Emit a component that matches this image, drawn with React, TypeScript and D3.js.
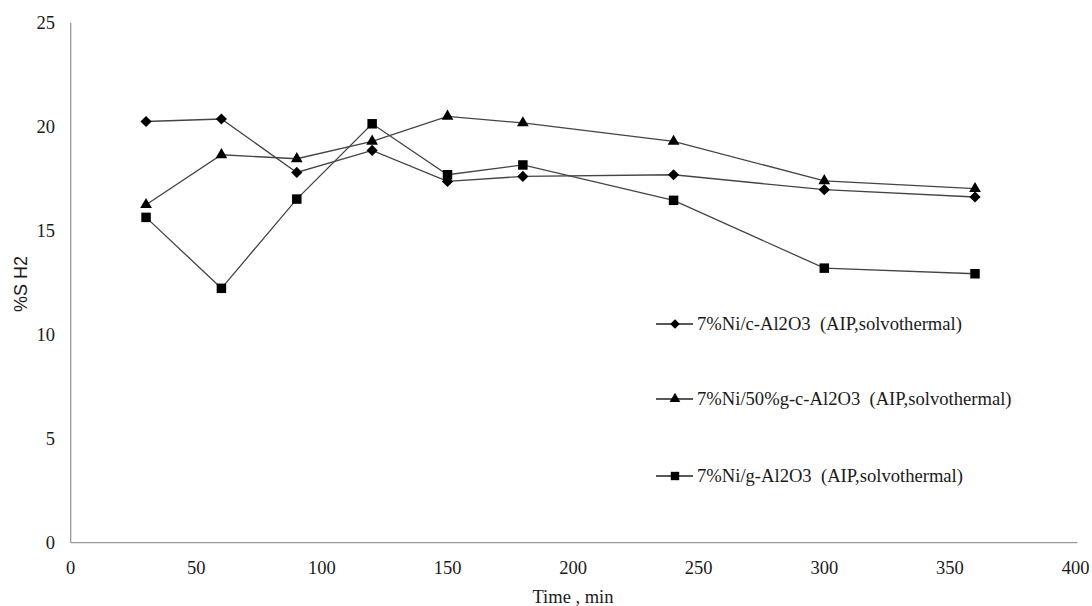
import { useEffect, useRef } from 'react'
import * as d3 from 'd3'

// Sampling times (min) shared by all three catalysts
const TIMES = [30, 60, 90, 120, 150, 180, 240, 300, 360]

// %S H2
const NI_C_AL2O3 = [20.25, 20.37, 17.8, 18.86, 17.37, 17.61, 17.69, 16.97, 16.62]
const NI_50G_C_AL2O3 = [16.25, 18.65, 18.46, 19.3, 20.5, 20.18, 19.29, 17.4, 17.02]
const NI_G_AL2O3 = [15.64, 12.23, 16.52, 20.14, 17.69, 18.16, 16.46, 13.2, 12.93]

const X_TICKS = [0, 50, 100, 150, 200, 250, 300, 350, 400]
const Y_TICKS = [0, 5, 10, 15, 20, 25]

const SERIES_NAMES = [
  '7%Ni/c-Al2O3  (AIP,solvothermal)',
  '7%Ni/50%g-c-Al2O3  (AIP,solvothermal)',
  '7%Ni/g-Al2O3  (AIP,solvothermal)',
]
const SERIES_VALUES = [NI_C_AL2O3, NI_50G_C_AL2O3, NI_G_AL2O3]
const SERIES_SYMBOLS = [d3.symbolDiamond2, d3.symbolTriangle, d3.symbolSquare]

const W = 1092
const H = 606
const SERIF = '"Liberation Serif", "Times New Roman", serif'

const App = () => {
  const ref = useRef<SVGSVGElement>(null)

  useEffect(() => {
    if (!ref.current) return
    const svg = d3.select(ref.current)
    svg.selectAll('*').remove()

    const x = d3.scaleLinear().domain([0, 400]).range([70.7, 1075.5])
    const y = d3.scaleLinear().domain([0, 25]).range([542.7, 22.7])

    // Axes (gray lines, no tick marks)
    svg
      .append('line')
      .attr('x1', x(0))
      .attr('x2', x(0))
      .attr('y1', y(0))
      .attr('y2', y(25))
      .attr('stroke', '#9a9a9a')
      .attr('stroke-width', 1.3)
    svg
      .append('line')
      .attr('x1', x(0))
      .attr('x2', x(400) + 2)
      .attr('y1', y(0))
      .attr('y2', y(0))
      .attr('stroke', '#9a9a9a')
      .attr('stroke-width', 1.3)

    svg
      .append('g')
      .selectAll('text')
      .data(Y_TICKS)
      .enter()
      .append('text')
      .attr('x', 55)
      .attr('y', (d) => y(d) + 6)
      .attr('text-anchor', 'end')
      .style('font-family', SERIF)
      .style('font-size', '18.5px')
      .style('fill', '#1a1a1a')
      .text((d) => d)

    svg
      .append('g')
      .selectAll('text')
      .data(X_TICKS)
      .enter()
      .append('text')
      .attr('x', (d) => x(d))
      .attr('y', 574)
      .attr('text-anchor', 'middle')
      .style('font-family', SERIF)
      .style('font-size', '18.5px')
      .style('fill', '#1a1a1a')
      .text((d) => d)

    // Axis titles
    svg
      .append('text')
      .attr('x', 573)
      .attr('y', 603)
      .attr('text-anchor', 'middle')
      .style('font-family', SERIF)
      .style('font-size', '18.5px')
      .style('fill', '#1a1a1a')
      .text('Time , min')

    svg
      .append('text')
      .attr('transform', 'translate(27,284) rotate(-90)')
      .attr('text-anchor', 'middle')
      .style('font-family', '"Liberation Sans", Arial, sans-serif')
      .style('font-size', '18px')
      .style('fill', '#1a1a1a')
      .text('%S H2')

    const line = d3
      .line<number>()
      .x((_, i) => x(TIMES[i]))
      .y((d) => y(d))

    SERIES_VALUES.forEach((vals) => {
      svg
        .append('path')
        .datum(vals)
        .attr('d', line)
        .attr('fill', 'none')
        .attr('stroke', '#444')
        .attr('stroke-width', 1.3)
    })

    SERIES_VALUES.forEach((vals, si) => {
      const sym = d3.symbol().type(SERIES_SYMBOLS[si]).size(si === 0 ? 80 : si === 1 ? 60 : 90)
      svg
        .append('g')
        .selectAll('path')
        .data(vals)
        .enter()
        .append('path')
        .attr('transform', (d, i) => `translate(${x(TIMES[i])},${y(d)})`)
        .attr('d', sym)
        .attr('fill', '#000')
    })

    // Legend
    const legendRows = [324, 399, 476]
    SERIES_NAMES.forEach((name, si) => {
      const ly = legendRows[si]
      const g = svg.append('g')
      g.append('line')
        .attr('x1', 656)
        .attr('x2', 693)
        .attr('y1', ly)
        .attr('y2', ly)
        .attr('stroke', '#222')
        .attr('stroke-width', 1.3)
      g.append('path')
        .attr('transform', `translate(675,${ly})`)
        .attr('d', d3.symbol().type(SERIES_SYMBOLS[si]).size(si === 0 ? 60 : si === 1 ? 50 : 70)())
        .attr('fill', '#000')
      g.append('text')
        .attr('x', 697)
        .attr('y', ly + 6)
        .style('font-family', SERIF)
        .style('font-size', '18.6px')
        .style('fill', '#1a1a1a')
        .style('white-space', 'pre')
        .text(name)
    })
  }, [])

  return (
    <svg
      ref={ref}
      width={W}
      height={H}
      style={{ position: 'absolute', left: 0, top: 0, background: '#fff' }}
    />
  )
}

export default App
